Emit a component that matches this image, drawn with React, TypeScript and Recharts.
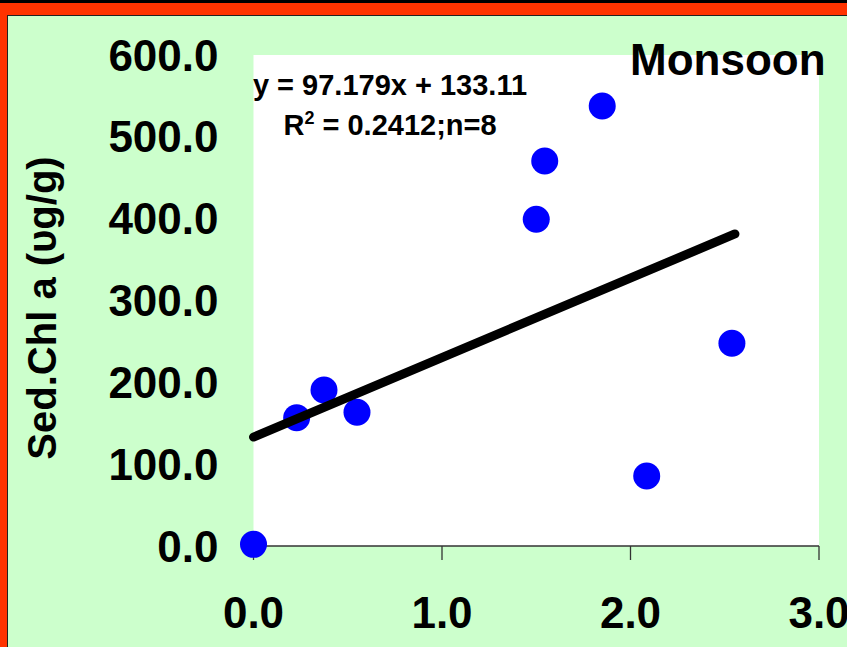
import { CartesianGrid, Scatter, ScatterChart, XAxis, YAxis } from "recharts";

const pointX = [0, 0.229, 0.374, 0.549, 1.5, 1.545, 1.85, 2.086, 2.538];
const pointY = [2, 156.8, 190.6, 163.4, 399.2, 470.5, 537.7, 85.5, 247.7];

// fitted line as drawn: its two ends
const trendX = [0, 2.554];
const trendY = [133.1, 381.3];

const xTicks = [0, 1, 2, 3];
const yTicks = [0, 100, 200, 300, 400, 500, 600];

const FONT = '"Liberation Sans", Arial, sans-serif';

const points = pointX.map((x, i) => ({ x, y: pointY[i] }));
const trend = trendX.map((x, i) => ({ x, y: trendY[i] }));

const Dot = (props: any) => <circle cx={props.cx} cy={props.cy} r={13.5} fill="#0000ff" />;
const NoDot = () => <g />;

const yLabel = () => (
  <text
    x={42}
    y={308}
    transform="rotate(-90 42 308)"
    textAnchor="middle"
    dominantBaseline="central"
    fontFamily={FONT}
    fontWeight="bold"
    fontSize={40}
    fill="#000"
  >
    Sed.Chl a (υg/g)
  </text>
);

export default function App() {
  return (
    <div style={{ position: "fixed", left: 0, top: 0, width: 847, height: 647, background: "#000", overflow: "hidden" }}>
      <div style={{ position: "absolute", left: 0, top: 3, right: 0, bottom: 0, background: "#ff3300" }} />
      <div
        style={{
          position: "absolute",
          left: 7,
          top: 15,
          right: 0,
          bottom: 0,
          background: "#ccffcc",
          borderTop: "1px solid #222",
          borderLeft: "1px solid #222",
        }}
      />
      <div style={{ position: "absolute", left: 0, top: 0 }}>
        <ScatterChart width={847} height={647} margin={{ top: 55, right: 28, bottom: 0, left: 0 }}>
          <CartesianGrid horizontal={false} vertical={false} fill="#ffffff" />
          <XAxis
            type="number"
            dataKey="x"
            domain={[0, 3]}
            ticks={xTicks}
            tickFormatter={(v: number) => v.toFixed(1)}
            height={101}
            axisLine={{ stroke: "#333", strokeWidth: 1.3 }}
            tickLine={{ stroke: "#333", strokeWidth: 1.3 }}
            tickSize={14}
            tickMargin={37}
            tick={{ fill: "#000", fontSize: 44, fontWeight: "bold", fontFamily: FONT }}
            allowDecimals
          />
          <YAxis
            type="number"
            dataKey="y"
            domain={[0, 600]}
            ticks={yTicks}
            tickFormatter={(v: number) => v.toFixed(1)}
            width={253.5}
            axisLine={false}
            tickLine={false}
            tickSize={0}
            tickMargin={35}
            tick={{ fill: "#000", fontSize: 44, fontWeight: "bold", fontFamily: FONT }}
            label={{ content: yLabel }}
          />
          <Scatter data={points} shape={Dot} isAnimationActive={false} />
          <Scatter
            data={trend}
            shape={NoDot}
            line={{ stroke: "#000", strokeWidth: 9, strokeLinecap: "round" }}
            isAnimationActive={false}
          />
        </ScatterChart>
      </div>
      <svg width={847} height={647} style={{ position: "absolute", left: 0, top: 0, pointerEvents: "none" }}>
        <g fontFamily={FONT} fontWeight="bold" fill="#000">
          <text x={630} y={75} fontSize={44}>
            Monsoon
          </text>
          <text x={390} y={95} fontSize={29} textAnchor="middle">
            y = 97.179x + 133.11
          </text>
          <text x={390} y={135} fontSize={29} textAnchor="middle">
            R<tspan fontSize={18} dy={-11}>2</tspan>
            <tspan dy={11}> = 0.2412;n=8</tspan>
          </text>
        </g>
      </svg>
    </div>
  );
}
